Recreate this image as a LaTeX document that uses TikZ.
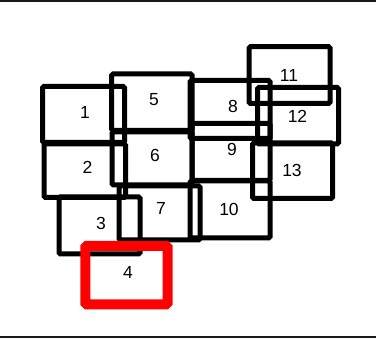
\documentclass[tikz,border=0pt]{standalone}
\usepackage{fontspec}
\setmainfont{Liberation Sans}
\begin{document}
\begin{tikzpicture}[x=1pt,y=-1pt,
  blk/.style={draw=black,line width=5pt,rounded corners=1.5pt,rectangle,inner sep=0pt,outer sep=0pt},
  redblk/.style={blk,draw=red,line width=10pt},
  lbl/.style={inner sep=0pt,font=\fontsize{17.5}{17.5}\selectfont},
  frame/.style={line width=2pt,draw=black!90}]
\useasboundingbox (0,0) rectangle (376,339);
\coordinate (tl) at (0,1);
\coordinate (tr) at (376,1);
\coordinate (bl) at (0,337);
\coordinate (br) at (376,337);
\draw[frame] (tl) -- (tr);
\draw[frame] (bl) -- (br);
% boxes: centre, width, height
\node[blk,minimum width=82pt,minimum height=56pt] (b1) at (83.5,114.5) {};
\node[blk,minimum width=81.5pt,minimum height=53.5pt] (b2) at (84.75,170.75) {};
\node[blk,minimum width=81pt,minimum height=57pt] (b3) at (99.5,225.5) {};
\node[blk,minimum width=80.3pt,minimum height=56.5pt] (b5) at (151.85,102.25) {};
\node[blk,minimum width=80pt,minimum height=53pt] (b6) at (152,158.5) {};
\node[blk,minimum width=81pt,minimum height=54pt] (b7) at (159.5,213) {};
\node[blk,minimum width=80pt,minimum height=58pt] (b8) at (230,109.5) {};
\node[blk,minimum width=78pt,minimum height=57pt] (b9) at (231,152) {};
\node[blk,minimum width=80pt,minimum height=57pt] (b10) at (230,209.5) {};
\node[blk,minimum width=81pt,minimum height=56.8pt] (b11) at (289.5,75.1) {};
\node[blk,minimum width=81pt,minimum height=56.5pt] (b12) at (298,115.75) {};
\node[blk,minimum width=80pt,minimum height=55.5pt] (b13) at (292.5,170.75) {};
\node[redblk,minimum width=82.2pt,minimum height=58.3pt] (b4) at (126.4,275.15) {};
% labels
\node[lbl] (t1) at (85,112.5) {1};
\node[lbl] (t2) at (87.5,167.5) {2};
\node[lbl] (t3) at (101,223) {3};
\node[lbl] (t4) at (128,272) {4};
\node[lbl] (t5) at (154,99.5) {5};
\node[lbl] (t6) at (155,155) {6};
\node[lbl] (t7) at (161,208) {7};
\node[lbl] (t8) at (233,106.5) {8};
\node[lbl] (t9) at (232,149.5) {9};
\node[lbl] (t10) at (229,209.5) {10};
\node[lbl] (t11) at (289,75) {11};
\node[lbl] (t12) at (297.5,116.5) {12};
\node[lbl] (t13) at (292,170) {13};
\end{tikzpicture}
\end{document}
